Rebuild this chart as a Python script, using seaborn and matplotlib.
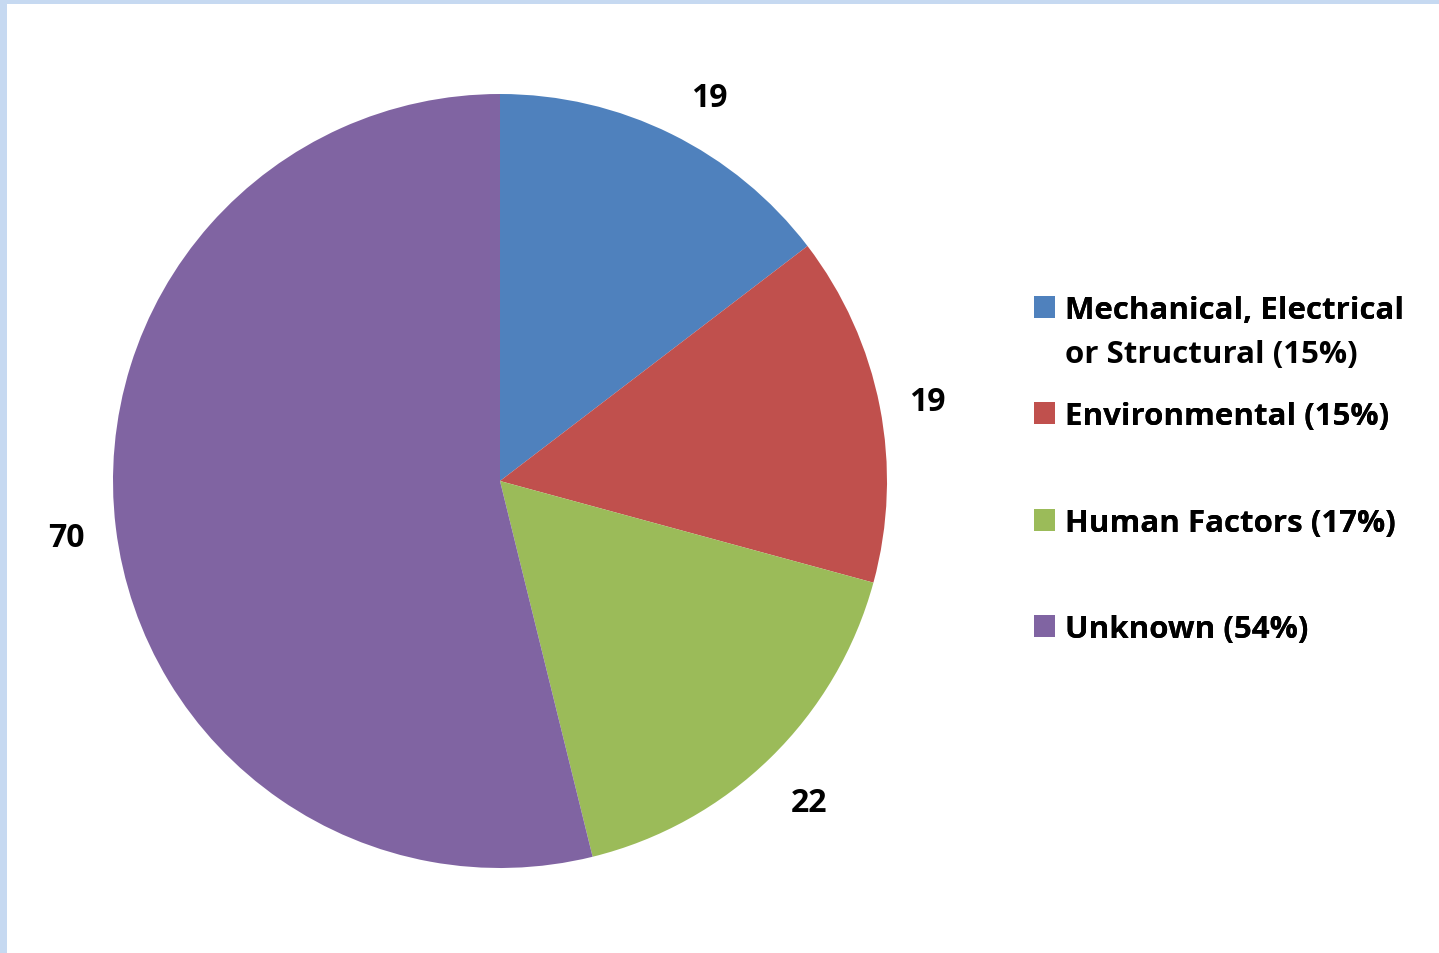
import matplotlib
matplotlib.use("Agg")
import numpy as np
import matplotlib.pyplot as plt
import matplotlib.patches as mpatches
import seaborn as sns

categories = ["Mechanical, Electrical\nor Structural (15%)", "Environmental (15%)",
              "Human Factors (17%)", "Unknown (54%)"]
values = [19, 19, 22, 70]
colors = ["#4F81BD", "#C0504D", "#9BBB59", "#8064A2"]

sns.set_theme(style="white")
FONT = ["Open Sans", "DejaVu Sans"]
plt.rcParams["font.family"] = FONT
plt.rcParams["text.color"] = "black"

W, H = 1439, 954
fig = plt.figure(figsize=(W / 100, H / 100), dpi=100)
fig.patch.set_facecolor("white")

# light blue frame on top and left
fig.add_artist(mpatches.Rectangle((0, 1 - 5 / H), 1, 5 / H, transform=fig.transFigure,
                                  facecolor="#C6D9F1", edgecolor="none"))
fig.add_artist(mpatches.Rectangle((0, 0), 7 / W, 1, transform=fig.transFigure,
                                  facecolor="#C6D9F1", edgecolor="none"))

cx, cy, r = 500, 482, 387
ax = fig.add_axes([(cx - r) / W, (H - cy - r) / H, 2 * r / W, 2 * r / H])
wedges, _ = ax.pie(values, colors=colors, startangle=90, counterclock=False,
                   wedgeprops=dict(linewidth=0, edgecolor="none"))
ax.set_aspect("equal")
ax.set_xlim(-1, 1)
ax.set_ylim(-1, 1)
ax.axis("off")

# data labels outside the wedges
angle_shift = [-2.0, 0, 0, 0]
dist = [1.138, 1.125, 1.145, 1.128]
for w, v, sh, d in zip(wedges, values, angle_shift, dist):
    a = np.deg2rad((w.theta1 + w.theta2) / 2 + sh)
    ax.text(d * np.cos(a), d * np.sin(a), str(v), ha="center", va="center_baseline",
            fontsize=23, fontweight="bold", color="black", family=FONT)

# legend entries placed individually (row positions as in the reference)
rows = [307, 413, 520, 626]
fs = 22.5
for w, lab, y in zip(wedges, categories, rows):
    lines = lab.split("\n")
    leg = fig.legend([w], [lines[0]], loc="center left",
                     bbox_to_anchor=(1034 / W, 1 - (y + 4) / H),
                     frameon=False, handlelength=0.68, handleheight=0.68,
                     handletextpad=0.3, borderpad=0, borderaxespad=0,
                     prop=dict(family=FONT, weight="bold", size=fs))
    for t in leg.get_texts():
        t.set_color("black")
    fig.add_artist(leg)
    for k, extra in enumerate(lines[1:], start=1):
        fig.text(1065 / W, 1 - (y + 45 * k + 11) / H, extra, ha="left", va="baseline",
                 fontsize=fs, fontweight="bold", color="black", family=FONT)

fig.savefig("out.png", dpi=100, facecolor="white")
